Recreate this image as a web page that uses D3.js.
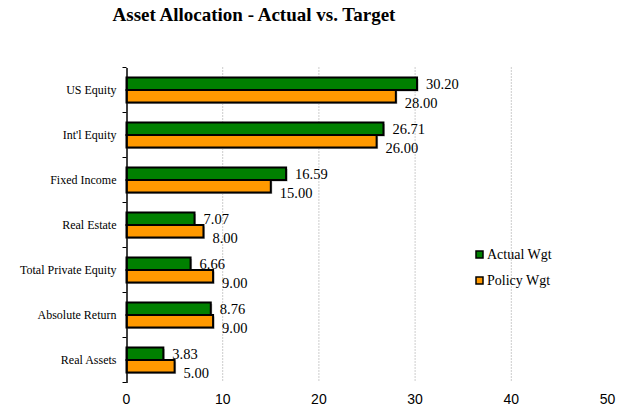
<!DOCTYPE html>
<html>
<head>
<meta charset="utf-8">
<script src="https://cdn.jsdelivr.net/npm/d3@7"></script>
<style>
  body { margin: 0; background: #fff; }
  svg { display: block; }
</style>
</head>
<body>
<svg id="chart" width="618" height="410"></svg>
<script>
const categories = ["US Equity", "Int'l Equity", "Fixed Income", "Real Estate",
                    "Total Private Equity", "Absolute Return", "Real Assets"];
const actualWgt = [30.20, 26.71, 16.59, 7.07, 6.66, 8.76, 3.83];
const policyWgt = [28.00, 26.00, 15.00, 8.00, 9.00, 9.00, 5.00];
const seriesNames = ["Actual Wgt", "Policy Wgt"];
const xTicks = [0, 10, 20, 30, 40, 50];

const colors = { "Actual Wgt": "#008000", "Policy Wgt": "#ff9900" };
const serif = "'Liberation Serif', 'Times New Roman', serif";

const svg = d3.select("#chart");

// plot area
const plotLeft = 126.5, plotRight = 607.5, plotTop = 67.5, plotBottom = 382.5;

const x = d3.scaleLinear().domain([0, 50]).range([plotLeft, plotRight]);
const y = d3.scaleBand().domain(categories).range([plotTop, plotBottom]);
const ySub = d3.scaleBand().domain(seriesNames)
    .range([y.bandwidth() * 0.222, y.bandwidth() * 0.778]);

// title
svg.append("text")
    .attr("x", 254).attr("y", 21)
    .attr("text-anchor", "middle")
    .style("font-family", serif)
    .style("font-weight", "bold")
    .style("font-size", "19px")
    .text("Asset Allocation - Actual vs. Target");

// dotted gridlines
svg.append("g").selectAll("line")
    .data(xTicks.filter(t => t > 0 && t < 50))
    .join("line")
    .attr("x1", d => x(d)).attr("x2", d => x(d))
    .attr("y1", plotTop).attr("y2", plotBottom)
    .attr("stroke", "#999")
    .attr("stroke-width", 1)
    .attr("stroke-dasharray", "1,2");

// rows of data
const rows = categories.map((c, i) => ({
    cat: c,
    vals: [
        { name: "Actual Wgt", v: actualWgt[i] },
        { name: "Policy Wgt", v: policyWgt[i] }
    ]
}));

const groups = svg.append("g").selectAll("g")
    .data(rows)
    .join("g")
    .attr("transform", d => `translate(0,${y(d.cat)})`);

// small shadow under bars
groups.selectAll("rect.shadow")
    .data(d => d.vals)
    .join("rect")
    .attr("class", "shadow")
    .attr("x", x(0) + 1.5)
    .attr("y", d => ySub(d.name) + 1.5)
    .attr("width", d => x(d.v) - x(0))
    .attr("height", ySub.bandwidth())
    .attr("fill", "#bbb");

groups.selectAll("rect.bar")
    .data(d => d.vals)
    .join("rect")
    .attr("class", "bar")
    .attr("x", x(0))
    .attr("y", d => ySub(d.name))
    .attr("width", d => x(d.v) - x(0))
    .attr("height", ySub.bandwidth())
    .attr("fill", d => colors[d.name])
    .attr("stroke", "#000")
    .attr("stroke-width", 2);

// value labels
groups.selectAll("text.val")
    .data(d => d.vals)
    .join("text")
    .attr("class", "val")
    .attr("x", d => x(d.v) + 9)
    .attr("y", d => ySub(d.name) + ySub.bandwidth() / 2 + (d.name === "Actual Wgt" ? 0 : 7))
    .attr("dy", "0.35em")
    .style("font-family", serif)
    .style("font-size", "14.5px")
    .attr("fill", "#000")
    .text(d => d.v.toFixed(2));

// y axis
const yAxis = svg.append("g")
    .attr("transform", `translate(${plotLeft},0)`)
    .call(d3.axisLeft(y).tickSize(0).tickPadding(10));
yAxis.select(".domain").attr("stroke", "#000").attr("stroke-width", 1.5);
yAxis.selectAll("text")
    .style("font-family", serif)
    .style("font-size", "12px")
    .attr("fill", "#000");

// tick marks between categories
svg.append("g").selectAll("line")
    .data(d3.range(categories.length + 1))
    .join("line")
    .attr("x1", plotLeft - 4).attr("x2", plotLeft)
    .attr("y1", i => plotTop + i * y.step())
    .attr("y2", i => plotTop + i * y.step())
    .attr("stroke", "#000");

// x tick labels (no axis line)
svg.append("g").selectAll("text")
    .data(xTicks)
    .join("text")
    .attr("x", d => x(d))
    .attr("y", 404)
    .attr("text-anchor", "middle")
    .style("font-family", "'Liberation Sans', Arial, sans-serif")
    .style("font-size", "14px")
    .text(d => d);

// legend
const legend = svg.append("g").attr("transform", "translate(476,251)");
const li = legend.selectAll("g")
    .data(seriesNames)
    .join("g")
    .attr("transform", (d, i) => `translate(0,${i * 26})`);
li.append("rect")
    .attr("x", 0).attr("y", 0)
    .attr("width", 7).attr("height", 7)
    .attr("fill", d => colors[d])
    .attr("stroke", "#000")
    .attr("stroke-width", 1.5);
li.append("text")
    .attr("x", 11).attr("y", 3.5)
    .attr("dy", "0.35em")
    .style("font-family", serif)
    .style("font-size", "14px")
    .text(d => d);
</script>
</body>
</html>
